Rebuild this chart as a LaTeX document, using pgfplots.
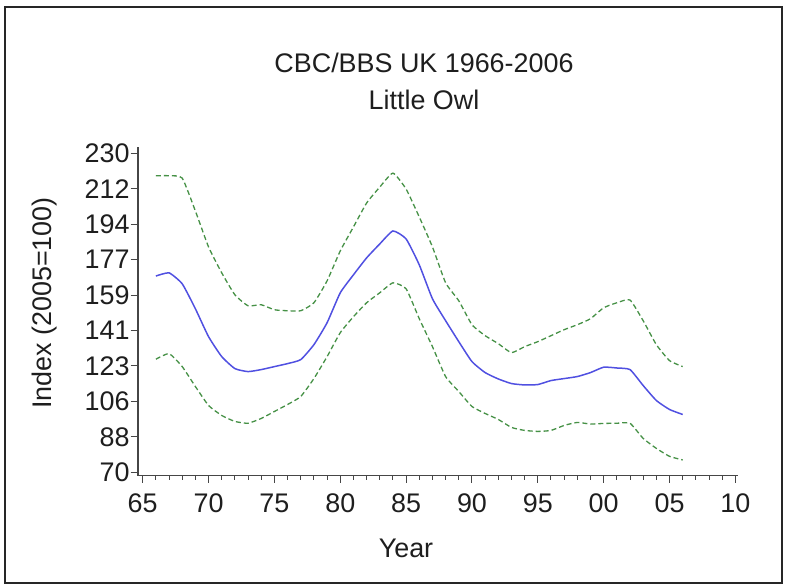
\documentclass[border=0pt]{standalone}
\usepackage{pgfplots}
\pgfplotsset{compat=1.18}
\usepackage{pgfplotstable}
\usepackage{fontspec}
\setmainfont{Liberation Sans}
\definecolor{idxblue}{RGB}{80,80,225}
\definecolor{cigreen}{RGB}{70,145,70}
\definecolor{axgray}{RGB}{70,70,70}
\definecolor{txt}{RGB}{30,30,30}

\pgfplotstableread{
year index upper lower
1966 168.4 218.7 126.7
1967 170.0 218.7 129.5
1968 164.5 217.5 123.0
1969 152.0 201.0 113.0
1970 138.0 183.0 103.5
1971 128.0 170.0 98.5
1972 122.0 159.0 95.5
1973 120.5 153.5 94.6
1974 121.5 154.0 97.0
1975 123.0 151.5 100.5
1976 124.5 151.0 104.0
1977 126.5 151.0 108.0
1978 134.0 155.0 117.0
1979 145.0 166.0 128.0
1980 160.0 181.0 140.0
1981 169.0 193.0 148.0
1982 177.5 205.0 155.0
1983 184.5 213.0 160.0
1984 191.0 220.0 165.0
1985 187.0 212.0 162.0
1986 174.0 198.0 147.0
1987 157.0 183.0 133.0
1988 146.0 165.0 118.0
1989 135.5 156.0 110.5
1990 125.5 144.0 103.0
1991 120.0 138.5 99.5
1992 116.8 134.5 96.5
1993 114.5 130.0 92.5
1994 113.8 133.0 91.0
1995 114.0 135.5 90.5
1996 116.0 138.5 91.0
1997 117.0 141.5 93.5
1998 118.0 144.0 95.0
1999 120.0 147.0 94.2
2000 122.7 152.5 94.5
2001 122.3 155.0 94.6
2002 121.5 156.4 94.6
2003 113.5 146.0 87.0
2004 106.0 134.0 82.0
2005 101.5 126.0 78.0
2006 99.0 123.0 76.2
}\owldata

\begin{document}
\begin{tikzpicture}
\path[use as bounding box] (0bp,0bp) rectangle (788bp,587bp);
\draw[line width=1.5bp, black!85] (5bp,4bp) rectangle (782bp,580bp);
\node[txt, font=\fontsize{27}{32}\selectfont] at (424bp,524bp) {CBC/BBS UK 1966-2006};
\node[txt, font=\fontsize{27}{32}\selectfont] at (424bp,487bp) {Little Owl};
\node[txt, font=\fontsize{27}{32}\selectfont, rotate=90] at (45bp,284bp) {Index (2005=100)};
\node[txt, font=\fontsize{27}{32}\selectfont] at (406bp,39bp) {Year};
\begin{axis}[
  at={(137.7bp,111.3bp)}, anchor=south west,
  width=600.3bp, height=328.7bp, scale only axis,
  xmin=1964.62, xmax=2010.2,
  ymin=68.3, ymax=233.1,
  axis x line*=bottom, axis y line*=left,
  axis line style={axgray, line width=1.6bp, -},
  every tick/.style={axgray, line width=1bp},
  tick align=outside,
  major tick length=7bp, minor tick length=4bp,
  xtick={1965,1970,...,2010},
  xticklabels={65,70,75,80,85,90,95,00,05,10},
  minor x tick num=4,
  ytick={70,87.7778,105.5556,123.3333,141.1111,158.8889,176.6667,194.4444,212.2222,230},
  yticklabels={70,88,106,123,141,159,177,194,212,230},
  /pgf/number format/assume math mode=true,
  ticklabel style={txt, font=\fontsize{27}{32}\selectfont},
  yticklabel style={inner sep=1bp},
  xticklabel style={inner sep=0bp, yshift=-11bp},
  clip=false,
]
\addplot[cigreen, line width=1.3bp, dash pattern=on 5bp off 3bp, smooth, tension=0.3] table[x=year, y=upper] {\owldata};
\addplot[cigreen, line width=1.3bp, dash pattern=on 5bp off 3bp, smooth, tension=0.3] table[x=year, y=lower] {\owldata};
\addplot[idxblue, line width=1.5bp, smooth, tension=0.3] table[x=year, y=index] {\owldata};
\end{axis}
\end{tikzpicture}
\end{document}
